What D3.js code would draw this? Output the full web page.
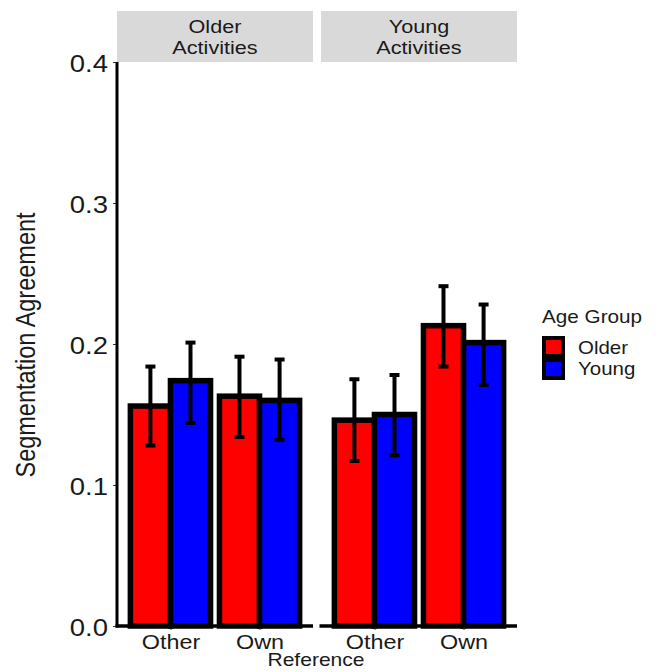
<!DOCTYPE html>
<html>
<head>
<meta charset="utf-8">
<script src="https://cdn.jsdelivr.net/npm/d3@7"></script>
<style>
  body { margin: 0; background: #fff; }
  svg { font-family: "Liberation Sans", Arial, sans-serif; }
</style>
</head>
<body>
<svg id="drawing_region"></svg>
<script>
// panels, categories and groups
const panels = ["Older\nActivities", "Young\nActivities"];
const references = ["Other", "Own"];
const groups = ["Older", "Young"];
const groupColors = ["#ff0000", "#0000ff"];

// mean agreement per panel -> reference -> group
const means = [
    [[0.156, 0.174], [0.163, 0.160]],
    [[0.146, 0.150], [0.213, 0.201]]
];
const lower = [
    [[0.128, 0.144], [0.134, 0.132]],
    [[0.117, 0.121], [0.184, 0.171]]
];
const upper = [
    [[0.184, 0.201], [0.191, 0.189]],
    [[0.175, 0.178], [0.241, 0.228]]
];
const yTicks = [0.0, 0.1, 0.2, 0.3, 0.4];

const config = {
    width: 662,
    height: 672,
    panelX: [117, 321],
    panelW: 196,
    top: 62,
    bottom: 626,
    stripH: 51,
    sx: 1.17   // the picture is a bit wider than tall
};
const sx = config.sx;
const ink = '#1a1a1a';

const svg = d3.select('#drawing_region')
    .attr('width', config.width)
    .attr('height', config.height);

// place a horizontally stretched label at (x, y)
function label(parent, x, y, txt, size, anchor) {
    return parent.append('g')
        .attr('transform', `translate(${x},${y})`)
        .append('text')
        .attr('transform', `scale(${sx},1)`)
        .attr('text-anchor', anchor || 'start')
        .attr('font-size', size + 'px')
        .attr('fill', ink)
        .text(txt);
}

const y = d3.scaleLinear()
    .domain([0, 0.4])
    .range([config.bottom, config.top]);

const color = d3.scaleOrdinal().domain(groups).range(groupColors);

panels.forEach((p, pi) => {
    const x0 = config.panelX[pi];
    const g = svg.append('g').attr('transform', `translate(${x0},0)`);

    // strip
    g.append('rect')
        .attr('x', 0).attr('y', config.top - config.stripH)
        .attr('width', config.panelW).attr('height', config.stripH)
        .attr('fill', '#d9d9d9');
    p.split('\n').forEach((line, i) => {
        label(g, config.panelW / 2, 33 + i * 21, line, 18.5, 'middle');
    });

    // discrete axis: categories at 1,2 on range 0.4..2.6
    const xc = d3.scaleLinear().domain([0.4, 2.6]).range([0, config.panelW]);
    const groupW = xc(1.9) - xc(1.0);
    const xg = d3.scaleBand().domain(groups).range([0, groupW]);

    const data = [];
    references.forEach((r, ri) => {
        groups.forEach((gr, gi) => {
            data.push({
                ref: r, grp: gr,
                cx: xc(ri + 1) - groupW / 2,
                v: means[pi][ri][gi],
                lo: lower[pi][ri][gi],
                hi: upper[pi][ri][gi]
            });
        });
    });

    g.selectAll('.bar')
        .data(data)
        .enter()
        .append('rect')
        .attr('class', 'bar')
        .attr('x', d => d.cx + xg(d.grp))
        .attr('y', d => y(d.v))
        .attr('width', xg.bandwidth())
        .attr('height', d => y(0) - y(d.v))
        .attr('fill', d => color(d.grp))
        .attr('stroke', 'black')
        .attr('stroke-width', 5.5);

    // error bars
    const mid = d => d.cx + xg(d.grp) + xg.bandwidth() / 2;
    const eb = g.selectAll('.err')
        .data(data)
        .enter()
        .append('g')
        .attr('class', 'err')
        .attr('stroke', 'black')
        .attr('stroke-width', 4);
    eb.append('line')
        .attr('x1', mid).attr('x2', mid)
        .attr('y1', d => y(d.lo))
        .attr('y2', d => y(d.hi));
    [d => d.lo, d => d.hi].forEach(f => {
        eb.append('line')
            .attr('x1', d => mid(d) - 5)
            .attr('x2', d => mid(d) + 5)
            .attr('y1', d => y(f(d)))
            .attr('y2', d => y(f(d)));
    });

    // x axis
    const xAxis = d3.axisBottom(d3.scalePoint().domain(references).range([xc(1), xc(2)]))
        .tickSize(4)
        .tickPadding(5);
    const ax = g.append('g')
        .attr('transform', `translate(0,${config.bottom})`)
        .call(xAxis);
    ax.select('.domain').remove();
    ax.append('line')
        .attr('x1', -1.5).attr('x2', config.panelW)
        .attr('stroke', 'black').attr('stroke-width', 3.5);
    ax.selectAll('.tick line').attr('stroke', '#333').attr('stroke-width', 1);
    ax.selectAll('.tick text')
        .attr('font-size', '20px')
        .attr('fill', ink)
        .attr('transform', `scale(${sx},1)`)
        .attr('font-family', '"Liberation Sans", Arial, sans-serif');

    if (pi === 0) {
        const yAxis = d3.axisLeft(y)
            .tickValues(yTicks)
            .tickFormat(d3.format('.1f'))
            .tickSize(4)
            .tickPadding(5);
        const ay = g.append('g').call(yAxis);
        ay.select('.domain').remove();
        ay.append('line')
            .attr('y1', config.top).attr('y2', config.bottom + 1.5)
            .attr('stroke', 'black').attr('stroke-width', 3);
        ay.selectAll('.tick line').attr('stroke', '#333');
        ay.selectAll('.tick text')
            .attr('font-size', '23.5px')
            .attr('fill', ink)
            .attr('x', -9 / sx)
            .attr('dy', '0.4em')
            .attr('transform', `scale(${sx},1)`)
            .attr('font-family', '"Liberation Sans", Arial, sans-serif');
    }
});

// axis titles
label(svg, 316, 666, 'Reference', 18, 'middle');
svg.append('g')
    .attr('transform', 'translate(35,345) rotate(-90)')
    .append('text')
    .attr('transform', `scale(1,${sx})`)
    .attr('text-anchor', 'middle')
    .attr('font-size', '23.5px')
    .attr('fill', ink)
    .text('Segmentation Agreement');

// legend
const legend = svg.append('g').attr('transform', 'translate(542,0)');
label(legend, 0, 323, 'Age Group', 17.7);
legend.selectAll('.key')
    .data(groups)
    .enter()
    .append('rect')
    .attr('class', 'key')
    .attr('x', 2)
    .attr('y', (d, i) => 338 + i * 22)
    .attr('width', 19).attr('height', 18)
    .attr('fill', d => color(d))
    .attr('stroke', 'black')
    .attr('stroke-width', 4);
groups.forEach((d, i) => {
    label(legend, 36, 354 + i * 21, d, 17.5);
});
</script>
</body>
</html>
